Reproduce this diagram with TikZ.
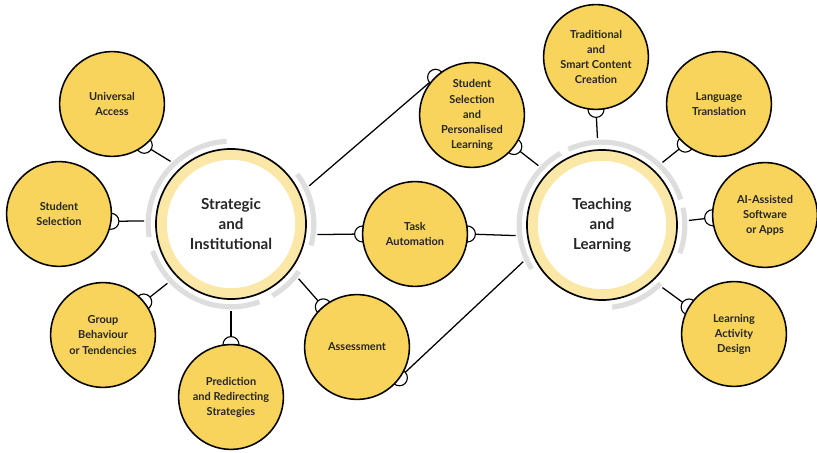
\documentclass[tikz,border=0pt]{standalone}
\usepackage{fontspec}
\newfontfamily\lato{Lato}
\usepackage{tikz}
\usetikzlibrary{backgrounds}
\definecolor{sunyellow}{HTML}{F8D45C}
\definecolor{paleyellow}{HTML}{FBE7A6}
\definecolor{ringgray}{HTML}{DEDEDE}
\tikzset{
  hub/.style={circle, draw, line width=1.2pt, fill=white, minimum size=3.75cm, outer sep=0.3cm, align=center,
    font=\lato\bfseries\fontsize{10.8}{14.2}\selectfont, text=black!85,
    path picture={\draw[paleyellow, line width=0.25cm] (path picture bounding box.center) circle (1.73cm);}},
  topic/.style={circle, draw, line width=1.1pt, fill=sunyellow, minimum size=2.62cm, inner sep=0pt, outer sep=0pt,
    align=center, font=\lato\bfseries\fontsize{7.8}{10.7}\selectfont, text=black!85},
  link/.style={line width=0.9pt},
  plug/.style={draw, line width=0.8pt, fill=white},
  ringarc/.style={ringgray, line width=0.13cm}
}

\begin{document}
\begin{tikzpicture}[x=0.025cm, y=0.025cm]
\useasboundingbox (0,0) rectangle (817,453);

% Hubs
\node[hub] (strat) at (231,229) {Strategic\\and\\Institutional};
\node[hub] (teach) at (602,228) {Teaching\\and\\Learning};

% Grey rings
\foreach \a/\b in {93/189, 199/290, 300/325, 345/397}
  \draw[ringarc] (strat.center) ++(\a:2.07cm) arc[start angle=\a, end angle=\b, radius=2.07cm];
\foreach \a/\b in {18/114, 120/212, 277/315, 340/372}
  \draw[ringarc] (teach.center) ++(\a:2.07cm) arc[start angle=\a, end angle=\b, radius=2.07cm];

% Strategic side
\node[topic] (univ) at (112,349) {Universal\\Access};
\node[topic] (stusel) at (59,239) {Student\\Selection};
\node[topic] (group) at (103,118) {Group\\Behaviour\\or Tendencies};
\node[topic] (predict) at (231,56) {Prediction\\and Redirecting\\Strategies};
\node[topic] (assess) at (357,106) {Assessment};

% Shared
\node[topic] (task) at (415,219) {Task\\Automation};
\node[topic] (person) at (472,338) {Student\\Selection\\and\\Personalised\\Learning};

% Teaching side
\node[topic] (content) at (596,396) {Traditional\\and\\Smart Content\\Creation};
\node[topic] (lang) at (719,349) {Language\\Translation};
\node[topic] (aisoft) at (765,238) {AI-Assisted\\Software\\or Apps};
\node[topic] (design) at (734,119) {Learning\\Activity\\Design};

% Connectors and plugs
\begin{scope}[on background layer]
\draw[link] (strat.134) -- (univ.-52);
\draw[link] (strat.178) -- (stusel.-8);
\draw[link] (strat.223) -- (group.39);
\draw[link] (strat.270) -- (predict.90);
\draw[link] (strat.-39) -- (assess.130);
\draw[link] (strat.-7) -- (task.180);
\draw[link] (strat.26) -- (person.134);

\draw[link] (teach.187) -- (task.0);
\draw[link] (teach.205) -- (assess.-36);
\draw[link] (teach.137) -- (person.-37);
\draw[link] (teach.93) -- (content.-90);
\draw[link] (teach.46) -- (lang.230);
\draw[link] (teach.3) -- (aisoft.183);
\draw[link] (teach.-46) -- (design.149);

\foreach \p in {univ.-52, stusel.-8, group.39, predict.90, assess.130, task.180, person.134,
  task.0, assess.-36, person.-37, content.-90, lang.230, aisoft.183, design.149}
  \draw[plug] (\p) circle (0.2cm);
\end{scope}
\end{tikzpicture}
\end{document}
